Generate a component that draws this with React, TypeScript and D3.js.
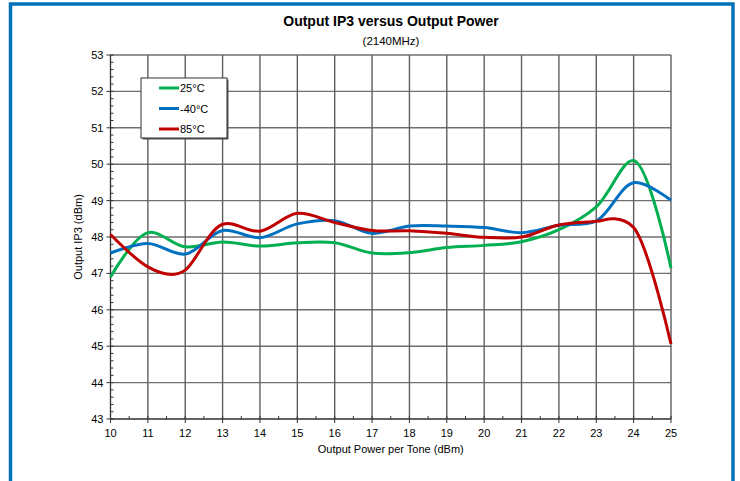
import React from "react";
import * as d3 from "d3";

const xTicks = [10, 11, 12, 13, 14, 15, 16, 17, 18, 19, 20, 21, 22, 23, 24, 25];
const yTicks = [43, 44, 45, 46, 47, 48, 49, 50, 51, 52, 53];

const x25 = [10, 11, 12, 13, 14, 15, 16, 17, 18, 19, 20, 21, 22, 23, 24, 25];
const y25 = [46.9, 48.12, 47.73, 47.86, 47.75, 47.84, 47.84, 47.56, 47.57, 47.71, 47.77, 47.87, 48.2, 48.83, 50.1, 47.14];

const xm40 = [10, 11, 12, 13, 14, 15, 16, 17, 18, 19, 20, 21, 22, 23, 24, 25];
const ym40 = [47.56, 47.82, 47.53, 48.18, 47.98, 48.36, 48.45, 48.1, 48.3, 48.3, 48.26, 48.12, 48.32, 48.44, 49.49, 49.01];

const x85 = [10, 11, 11.65, 12, 13, 14, 15, 16, 17, 18, 19, 20, 21, 22, 23, 23.5, 24, 25];
const y85 = [48.07, 47.18, 46.97, 47.09, 48.35, 48.16, 48.65, 48.4, 48.18, 48.17, 48.1, 47.99, 48.0, 48.33, 48.43, 48.5, 48.26, 45.06];

const seriesNames = ["25°C", "-40°C", "85°C"];
const seriesColors = ["#00b050", "#0070c0", "#c00000"];

const W = 740;
const H = 481;
const left = 110.5;
const right = 671;
const top = 55;
const bottom = 419;

export default function App() {
  const xs = d3.scaleLinear().domain([10, 25]).range([left, right]);
  const ys = d3.scaleLinear().domain([43, 53]).range([bottom, top]);
  const line = d3
    .line<[number, number]>()
    .x((d) => xs(d[0]))
    .y((d) => ys(d[1]))
    .curve(d3.curveCatmullRom.alpha(0.5));
  const series: [number, number][][] = [
    x25.map((v, i) => [v, y25[i]]),
    xm40.map((v, i) => [v, ym40[i]]),
    x85.map((v, i) => [v, y85[i]]),
  ];
  const yMinor = d3.range(43, 53.001, 0.2);
  const xMinor = d3.range(10, 25.001, 0.5);
  const font = "'Liberation Sans', Arial, sans-serif";
  return (
    <svg
      width={W}
      height={H}
      style={{ position: "absolute", left: 0, top: 0, background: "#fff", fontFamily: font }}
    >
      {/* frame */}
      <path d={`M10.5,${H + 5} V4 H733 V${H + 5}`} fill="none" stroke="#0072b8" strokeWidth={3.5} />
      {/* title */}
      <text x={391} y={26} textAnchor="middle" fontWeight="bold" fontSize={14}>
        Output IP3 versus Output Power
      </text>
      <text x={391} y={45} textAnchor="middle" fontSize={11.5}>
        (2140MHz)
      </text>
      {/* grid */}
      {yTicks.map((t) => (
        <line key={"gy" + t} x1={left} x2={right} y1={ys(t)} y2={ys(t)} stroke="#6e6e6e" strokeWidth={1.4} />
      ))}
      {xTicks.map((t) => (
        <line key={"gx" + t} x1={xs(t)} x2={xs(t)} y1={top} y2={bottom} stroke="#5e5e5e" strokeWidth={1.4} />
      ))}
      {/* axes */}
      <line x1={left} x2={left} y1={top} y2={bottom} stroke="#333" strokeWidth={1} />
      <line x1={left} x2={right} y1={bottom} y2={bottom} stroke="#333" strokeWidth={1} />
      {yMinor.map((t, i) => (
        <line key={"my" + i} x1={left} x2={left + 3} y1={ys(t)} y2={ys(t)} stroke="#333" strokeWidth={1} />
      ))}
      {yTicks.map((t) => (
        <line key={"ty" + t} x1={left - 4} x2={left} y1={ys(t)} y2={ys(t)} stroke="#333" strokeWidth={1} />
      ))}
      {xMinor.map((t, i) => (
        <line key={"mx" + i} x1={xs(t)} x2={xs(t)} y1={bottom - 3} y2={bottom} stroke="#333" strokeWidth={1} />
      ))}
      {xTicks.map((t) => (
        <line key={"tx" + t} x1={xs(t)} x2={xs(t)} y1={bottom} y2={bottom + 4} stroke="#333" strokeWidth={1} />
      ))}
      {yTicks.map((t) => (
        <text key={"ly" + t} x={left - 7} y={ys(t) + 4} textAnchor="end" fontSize={11}>
          {t}
        </text>
      ))}
      {xTicks.map((t) => (
        <text key={"lx" + t} x={xs(t)} y={bottom + 18} textAnchor="middle" fontSize={11}>
          {t}
        </text>
      ))}
      <text x={(left + right) / 2} y={453} textAnchor="middle" fontSize={11}>
        Output Power per Tone  (dBm)
      </text>
      <text
        transform={`translate(82,${(top + bottom) / 2}) rotate(-90)`}
        textAnchor="middle"
        fontSize={11}
      >
        Output IP3 (dBm)
      </text>
      {/* series */}
      {series.map((s, i) => (
        <path key={"s" + i} d={line(s) || ""} fill="none" stroke={seriesColors[i]} strokeWidth={3} />
      ))}
      {/* legend */}
      <rect x={142.5} y={79.5} width={86} height={60} fill="#555" />
      <rect x={141} y={78} width={86} height={60} fill="#fff" stroke="#333" strokeWidth={1} />
      {seriesNames.map((n, i) => (
        <g key={"lg" + i}>
          <line x1={159} x2={179} y1={88 + i * 20.5} y2={88 + i * 20.5} stroke={seriesColors[i]} strokeWidth={3} />
          <text x={180} y={92 + i * 20.5} fontSize={11}>
            {n}
          </text>
        </g>
      ))}
    </svg>
  );
}
